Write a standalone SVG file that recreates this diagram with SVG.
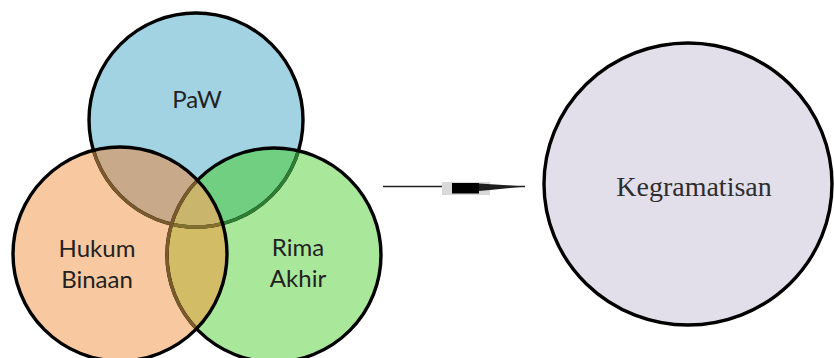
<svg xmlns="http://www.w3.org/2000/svg" width="834" height="358" viewBox="0 0 834 358">
<style>
.lbl{font-family:Lato,"Open Sans","Liberation Sans",sans-serif;font-size:24px;fill:#222;text-anchor:middle}
.ser{font-family:"Liberation Serif","Times New Roman",serif;font-size:28px;fill:#2e2e2e;text-anchor:middle}
.edge{fill:none;stroke:#000;stroke-width:3.4}
</style>
<defs>
<clipPath id="cBlue"><circle cx="196" cy="120" r="107"/></clipPath>
<clipPath id="cOrange"><circle cx="120" cy="254" r="107"/></clipPath>
<clipPath id="cGreen"><circle cx="274" cy="255" r="107"/></clipPath>
</defs>
<rect width="834" height="358" fill="#fff"/>
<g id="venn">
<g id="paw">
<circle cx="196" cy="120" r="107" fill="#a2d3e3"/>
</g>
<g id="rima-akhir">
<circle cx="274" cy="255" r="107" fill="#a9e89b"/>
</g>
<g id="hukum-binaan">
<circle cx="120" cy="254" r="107" fill="#f8c9a0"/>
</g>
<g id="overlaps">
<circle cx="120" cy="254" r="107" fill="#c8a98a" clip-path="url(#cBlue)"/>
<circle cx="274" cy="255" r="107" fill="#70cf80" clip-path="url(#cBlue)"/>
<g clip-path="url(#cGreen)"><circle cx="120" cy="254" r="107" fill="#d2bc66"/></g>
<g clip-path="url(#cGreen)"><circle cx="120" cy="254" r="107" fill="#c9b66c" clip-path="url(#cBlue)"/></g>
</g>
<g id="strokes">
<circle class="edge" cx="196" cy="120" r="107"/>
<circle cx="196" cy="120" r="107" fill="none" stroke="#2d7d33" stroke-width="3.4" clip-path="url(#cGreen)"/>
<circle cx="196" cy="120" r="107" fill="none" stroke="#7a5a2c" stroke-width="3.4" clip-path="url(#cOrange)"/>
<g clip-path="url(#cGreen)"><circle cx="196" cy="120" r="107" fill="none" stroke="#83702e" stroke-width="3.4" clip-path="url(#cOrange)"/></g>
<circle class="edge" cx="274" cy="255" r="107"/>
<circle cx="274" cy="255" r="107" fill="none" stroke="#7a5a28" stroke-width="3.4" clip-path="url(#cOrange)"/>
<circle class="edge" cx="120" cy="254" r="107"/>
</g>
<text class="lbl" x="197" y="108">PaW</text>
<text class="lbl" x="97" y="257">Hukum</text>
<text class="lbl" x="97" y="288">Binaan</text>
<text class="lbl" x="298" y="256">Rima</text>
<text class="lbl" x="298" y="287">Akhir</text>
</g>
<g id="connectors">
<line x1="383" y1="186.5" x2="525" y2="186.5" stroke="#222" stroke-width="1.5"/>
<rect x="442" y="182" width="48" height="13" fill="#d9d9d9"/>
<rect x="452" y="183" width="27" height="10.5" fill="#000"/>
<polygon points="479,183.5 495,184.5 510,185.5 525,186.5 510,188 495,189.5 479,191" fill="#1e1e1e"/>
</g>
<g id="kegramatisan">
<ellipse cx="688" cy="184" rx="144" ry="141" fill="#e2dfeb" stroke="#000" stroke-width="3.4"/>
<text class="ser" x="694" y="196">Kegramatisan</text>
</g>
</svg>
